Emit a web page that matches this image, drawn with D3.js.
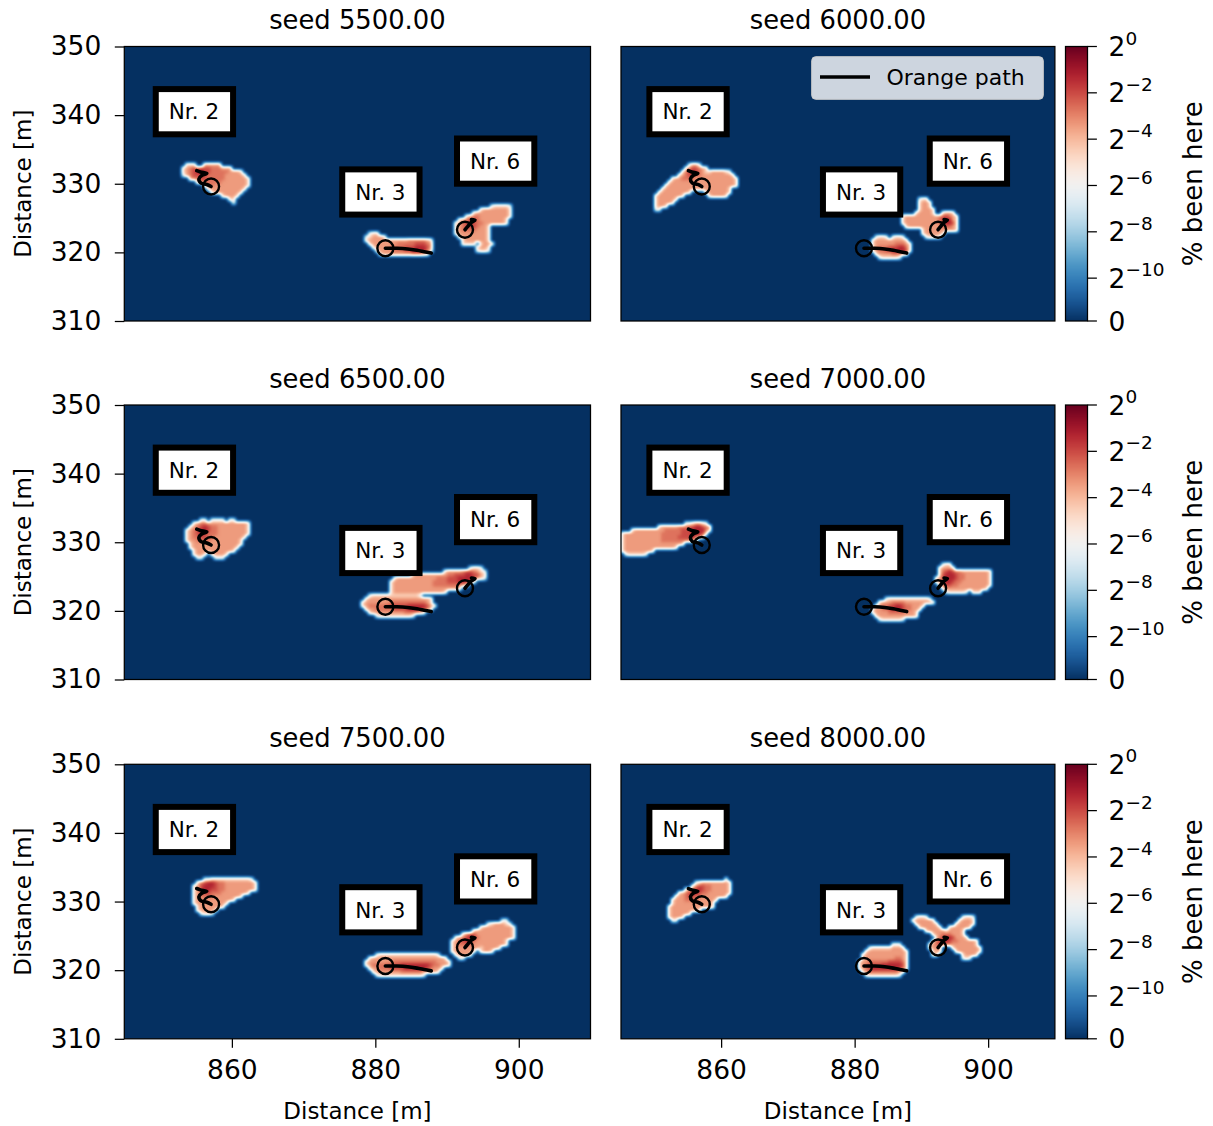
<!DOCTYPE html>
<html>
<head>
<meta charset="utf-8">
<script src="https://cdn.jsdelivr.net/npm/d3@7"></script>
<style>
  body { margin: 0; background: #ffffff; }
  svg text { font-family: "DejaVu Sans", "Liberation Sans", sans-serif; fill: #000; }
</style>
</head>
<body>
<svg id="fig" width="1213" height="1126"></svg>
<script>
// ---------------- data ----------------
const seeds = [5500, 6000, 6500, 7000, 7500, 8000];
const xTicks = [860, 880, 900];
const yTicks = [310, 320, 330, 340, 350];
const cbarTickExps = [null, -10, -8, -6, -4, -2, 0];   // null -> the 0 tick

const labelNames = ["Nr. 2", "Nr. 3", "Nr. 6"];
const labelAnchors = [[851.2, 340.5], [877.2, 328.8], [893.2, 333.3]];
const startPoints = [[857.1, 329.6], [881.4, 320.6], [892.5, 323.3]];

const pathNr2 = [[857.1, 329.6], [856.5, 329.9], [855.7, 330.1], [855.4, 330.7], [855.8, 331.2], [856.5, 331.5], [855.6, 331.7], [855.1, 331.9]];
const pathNr3 = [[881.4, 320.6], [883.0, 320.6], [884.5, 320.5], [885.8, 320.3], [886.8, 320.1], [887.8, 319.9]];
const pathNr6 = [[892.5, 323.3], [892.9, 323.8], [893.3, 324.3], [893.9, 324.7], [893.4, 324.8]];

// density levels per grid cell (0.5 m cells); digit -> log2 of the share of time spent there
const levelExp = [null, -10, -8, -6, -4.6, -3.4, -2.7, -2.0, -1.3, -0.5];

const blobs5500 = [
  { x0: 853, y0: 333, rows: [
    ".444..55555........",
    "45677877666555.....",
    "45678877666665554..",
    "356777766666555554.",
    "..56677666665555554",
    "....566666655555554",
    "......5665555555554",
    ".......45555555554.",
    "........455555554..",
    "...........45554...",
    ".............44....",
    "..............3...."] },
  { x0: 878.5, y0: 323, rows: [
    ".344...............",
    "345554.............",
    "4555555555556666654",
    ".455555556666677765",
    "..45555666677788875",
    "...4555566677888864",
    "....45555555566654."] },
  { x0: 890.5, y0: 327, rows: [
    "...........344443",
    "........455555554",
    "......45555555554",
    "....4566555555554",
    "..45677655555554.",
    ".456777665555554.",
    ".4567776554......",
    ".4566665554......",
    ".4555555554......",
    "..455555554......",
    "...45555554......",
    "...4444.4554.....",
    ".......4554......",
    ".......3443......"] }
];

const blobs6000 = [
  { x0: 849.5, y0: 333, rows: [
    "...........3553..........",
    "..........4677654.........",
    ".........467876544555543..",
    "........45677665555555554.",
    "......45566665555555555554",
    ".....455555555555555555554",
    "....4555555555555555555554",
    "...455555555555555555554..",
    "..4555555554....45555554..",
    ".455555554.......455554...",
    ".4555554..................",
    ".455554...................",
    ".4554.....................",
    ".33......................."] },
  { x0: 882.5, y0: 322.5, rows: [
    ".3443.3443..",
    "45555555554.",
    "455555566654",
    "456667778864",
    "456677888874",
    ".4555566654.",
    "..3444443..."] },
  { x0: 887, y0: 328, rows: [
    ".....344.........",
    ".....4554........",
    ".....4554........",
    ".....45554.......",
    "....455554..4554.",
    "45555555555677654",
    "45555555555678854",
    "45555555555678874",
    ".4555555555566654",
    "......45555555554",
    "......4555554....",
    ".......34443....."] }
];

const blobs6500 = [
  { x0: 853.5, y0: 333.5, rows: [
    "....33.3333.33....",
    "..4566555555555554",
    ".45678766555555554",
    "456788766555555554",
    "456787666555555554",
    "45667766555555554.",
    "4556666555555554..",
    ".455555555555554..",
    ".45555555555554...",
    "..455555555554....",
    "..4554.45554......",
    "...33...333......."] },
  { x0: 878, y0: 322.5, rows: [
    "..344444444444443....",
    ".4555555555555555554.",
    "45555555666666666654.",
    "456666677777788888754",
    ".4556666677778888764.",
    "..4555555555666654...",
    "....34444444443......"] },
  { x0: 882, y0: 326.5, rows: [
    "......................3443.",
    "...............455556776543",
    "......455555555566777887754",
    ".45555555555566677788887543",
    "455555555555666677788874...",
    "4555555555556666666654.....",
    "45555555555555555554.......",
    "4555555555555554...........",
    ".34444443.................."] }
];

const blobs7000 = [
  { x0: 845, y0: 333, rows: [
    "...................3345543",
    "...........4555556667788765",
    "...455555555566666777888864",
    "45555555555566666677788874.",
    "4555555555556666677778654..",
    "45555555555566666666654....",
    "4555555555555555554........",
    "45555555555555554..........",
    "4555555554.................",
    ".3444443..................."] },
  { x0: 882.5, y0: 322, rows: [
    "....34444444444443.",
    "..45556666555555554",
    ".456677887665554...",
    "455667888766554....",
    "45555666665554.....",
    ".4555555555554.....",
    "..34444443........."] },
  { x0: 892, y0: 327, rows: [
    "..344............",
    ".45554...........",
    ".4678766555555554",
    ".4788876655555554",
    "45788876655555554",
    "45788766555555554",
    ".4677665555555554",
    "..45555555555554.",
    "...3444443.444..."] }
];

const blobs7500 = [
  { x0: 854.5, y0: 333.5, rows: [
    "...33444444444443.",
    ".46788766555555554",
    "457888766555555554",
    "457887766555555554",
    "4567766655555554..",
    "45666655555554....",
    "455555555554......",
    "4555555554........",
    ".45555554.........",
    ".455554...........",
    "..3443............"] },
  { x0: 878.5, y0: 322.5, rows: [
    "...344444444444444443...",
    ".4555555555555555555554.",
    "455555556666666666665554",
    "456666777788888888766554",
    ".455666777788888876554..",
    "..4555555566666655554...",
    "...34444444444443......."] },
  { x0: 890.5, y0: 327.5, rows: [
    "..............33..",
    "..........3455543.",
    "........4555555554",
    "......455555555554",
    "...467755555555554",
    ".45678765555555554",
    "4567876555555554..",
    "4566665555555554..",
    "45555555455554....",
    "4555554.4554......",
    ".45554............",
    "..33.............."] }
];

const blobs8000 = [
  { x0: 852, y0: 333.5, rows: [
    ".................3.",
    "........34555555554",
    ".......467766555554",
    ".....45678766555554",
    "...4567887665555554",
    "..4556776655555554.",
    ".45556666555554....",
    ".4555555555554.....",
    "45555555555554.....",
    "4555555554.........",
    "4555554............",
    "45554..............",
    ".33................"] },
  { x0: 880.5, y0: 324, rows: [
    "..........333..",
    "...34444445554.",
    "..4555555555554",
    ".45555555555554",
    ".45555555556654",
    "455666666777764",
    "456777788888874",
    "456788888888764",
    ".4566666666654.",
    "..34444444443.."] },
  { x0: 888.5, y0: 328, rows: [
    ".3443..........3443..",
    "4555554.......45554..",
    ".4555554.....455554..",
    "..4555554..4555554...",
    "....455555455554.....",
    "......4556665554.....",
    ".......4678875554....",
    "......46788766555554.",
    ".....456776655555554.",
    ".....4555...455555554",
    "......455....45555554",
    "......44.......45554.",
    "...............343..."] }
];

const seedBlobs = [blobs5500, blobs6000, blobs6500, blobs7000, blobs7500, blobs8000];

// ---------------- layout ----------------
const svg = d3.select("#fig");
const defs = svg.append("defs");
const colX = [[124.3, 590.5], [621.0, 1054.9]];
const rowTop = [46.5, 405, 764.3];
const rowH = 274.5;
const cbarX = [1065.5, 1087.5];

const CELL = 0.5, GX0 = 845, GY1 = 350, NCOL = 130, NROW = 80;

// colour normalisation: linear below 2^-10, log2 above (as on the colour bar)
const LT = Math.pow(2, -10), LIN_UNITS = 1.85, TOTAL = LIN_UNITS + 10;
function norm(v) {
  if (v <= 0) return 0;
  if (v <= LT) return LIN_UNITS * (v / LT) / TOTAL;
  return Math.min(1, (LIN_UNITS + Math.log2(v / LT)) / TOTAL);
}
const cmap = t => d3.interpolateRdBu(1 - t);
const LUTN = 512;
const LUT = d3.range(LUTN).map(k => d3.rgb(cmap(k / (LUTN - 1))));
const lut = t => LUT[Math.round(Math.max(0, Math.min(1, t)) * (LUTN - 1))];

function buildGrid(blobs) {
  const g = new Float32Array(NCOL * NROW);
  blobs.forEach(b => {
    const c0 = Math.round((b.x0 - GX0) / CELL), r0 = Math.round((GY1 - b.y0) / CELL);
    b.rows.forEach((row, r) => {
      for (let c = 0; c < row.length; c++) {
        const ch = row[c];
        if (ch === ".") continue;
        const cc = c0 + c, rr = r0 + r;
        if (cc < 0 || cc >= NCOL || rr < 0 || rr >= NROW) continue;
        const t = norm(Math.pow(2, levelExp[+ch]));
        const gi = rr * NCOL + cc;
        if (t > g[gi]) g[gi] = t;
      }
    });
  });
  return g;
}

function cellT(g, r, c) {
  if (r < 0 || r >= NROW || c < 0 || c >= NCOL) return 0;
  return g[r * NCOL + c];
}

// small separable box blur on the normalised field (smooth resampling)
function boxBlur(f, W, H, rad) {
  const tmp = new Float32Array(W * H), n = 2 * rad + 1;
  for (let j = 0; j < H; j++) for (let i = 0; i < W; i++) {
    let s = 0;
    for (let k = -rad; k <= rad; k++) { const ii = Math.min(W - 1, Math.max(0, i + k)); s += f[j * W + ii]; }
    tmp[j * W + i] = s / n;
  }
  for (let j = 0; j < H; j++) for (let i = 0; i < W; i++) {
    let s = 0;
    for (let k = -rad; k <= rad; k++) { const jj = Math.min(H - 1, Math.max(0, j + k)); s += tmp[jj * W + i]; }
    f[j * W + i] = s / n;
  }
}

function toDataURL(field, W, H) {
  const cv = document.createElement("canvas");
  cv.width = W; cv.height = H;
  const ctx = cv.getContext("2d");
  const img = ctx.createImageData(W, H);
  for (let p = 0; p < W * H; p++) {
    const col = lut(field[p]);
    img.data[p * 4] = col.r; img.data[p * 4 + 1] = col.g; img.data[p * 4 + 2] = col.b; img.data[p * 4 + 3] = 255;
  }
  ctx.putImageData(img, 0, 0);
  return cv.toDataURL();
}

function rasterize(g, xs, ys) {
  const [px0, px1] = xs.range();
  const [py1, py0] = ys.range();
  const W = Math.round(px1 - px0), H = Math.round(py1 - py0);
  const field = new Float32Array(W * H);
  for (let j = 0; j < H; j++) {
    const dy = ys.invert(py0 + (j + 0.5) * (py1 - py0) / H);
    const gy = (GY1 - dy) / CELL - 0.5;
    const r0 = Math.floor(gy), fy = gy - r0;
    for (let i = 0; i < W; i++) {
      const dx = xs.invert(px0 + (i + 0.5) * (px1 - px0) / W);
      const gx = (dx - GX0) / CELL - 0.5;
      const c0 = Math.floor(gx), fx = gx - c0;
      field[j * W + i] = (cellT(g, r0, c0) * (1 - fx) + cellT(g, r0, c0 + 1) * fx) * (1 - fy) +
                         (cellT(g, r0 + 1, c0) * (1 - fx) + cellT(g, r0 + 1, c0 + 1) * fx) * fy;
    }
  }
  boxBlur(field, W, H, 1);
  boxBlur(field, W, H, 1);
  return toDataURL(field, W, H);
}

// colour bars, one per row: one crisp 1 px band per pixel row, coloured through the bar's scale
rowTop.forEach(top => {
  const bottom = top + rowH;
  const cy = d3.scaleLinear().domain([0, 1]).range([bottom, top]);
  const cb = svg.append("g");
  const y0 = Math.round(top), y1 = Math.round(bottom);
  cb.append("g").attr("shape-rendering", "crispEdges")
    .selectAll("rect").data(d3.range(y0, y1)).join("rect")
    .attr("x", Math.round(cbarX[0])).attr("width", Math.round(cbarX[1] - cbarX[0]))
    .attr("y", d => d).attr("height", 1)
    .attr("fill", d => { const c = lut(cy.invert(d + 0.5)); return `rgb(${c.r},${c.g},${c.b})`; });
  cb.append("rect").attr("x", cbarX[0]).attr("y", top)
    .attr("width", cbarX[1] - cbarX[0]).attr("height", rowH)
    .attr("fill", "none").attr("stroke", "#000").attr("stroke-width", 1.25);

  const tickVals = cbarTickExps.map(e => e === null ? 0 : Math.pow(2, e));
  tickVals.forEach((v, k) => {
    const ty = cy(norm(v));
    cb.append("line").attr("x1", cbarX[1]).attr("x2", cbarX[1] + 9.4)
      .attr("y1", ty).attr("y2", ty).attr("stroke", "#000").attr("stroke-width", 1.25);
    const t = cb.append("text").attr("x", cbarX[1] + 21).attr("y", ty + 9.6)
      .style("font-size", "26.5px");
    const e = cbarTickExps[k];
    if (e === null) { t.text("0"); return; }
    t.append("tspan").text("2");
    t.append("tspan").attr("dy", -11.5).style("font-size", "18.5px")
      .text(e === 0 ? "0" : "\u2212" + Math.abs(e));
  });

  svg.append("text")
    .attr("transform", `translate(1193,${(top + bottom) / 2}) rotate(-90)`)
    .attr("text-anchor", "middle").attr("dominant-baseline", "central")
    .style("font-size", "26px").text("% been here");
});

const paths = [pathNr2, pathNr3, pathNr6];

seeds.forEach((seed, idx) => {
  const row = Math.floor(idx / 2), col = idx % 2;
  const top = rowTop[row], bottom = top + rowH;
  const x = d3.scaleLinear().domain([845, 910]).range(colX[col]);
  const y = d3.scaleLinear().domain([310, 350]).range([bottom, top]);
  const g = svg.append("g");

  // heat map
  const grid = buildGrid(seedBlobs[idx]);
  g.append("image")
    .attr("x", colX[col][0]).attr("y", top)
    .attr("width", colX[col][1] - colX[col][0]).attr("height", rowH)
    .attr("preserveAspectRatio", "none")
    .attr("href", rasterize(grid, x, y));

  const clipId = "clip" + idx;
  defs.append("clipPath").attr("id", clipId).append("rect")
    .attr("x", colX[col][0]).attr("y", top)
    .attr("width", colX[col][1] - colX[col][0]).attr("height", rowH);
  const inner = g.append("g").attr("clip-path", `url(#${clipId})`);

  // paths and start markers
  const line = d3.line().x(d => x(d[0])).y(d => y(d[1])).curve(d3.curveCatmullRom);
  paths.forEach(p => {
    inner.append("path").attr("d", line(p))
      .attr("fill", "none").attr("stroke", "#000").attr("stroke-width", 3.6)
      .attr("stroke-linecap", "round").attr("stroke-linejoin", "round");
  });
  startPoints.forEach(p => {
    inner.append("circle").attr("cx", x(p[0])).attr("cy", y(p[1])).attr("r", 8)
      .attr("fill", "none").attr("stroke", "#000").attr("stroke-width", 2.4);
  });

  // labels in boxes
  labelNames.forEach((name, k) => {
    const lg = inner.append("g");
    const tx = x(labelAnchors[k][0]), ty = y(labelAnchors[k][1]);
    const rect = lg.append("rect");
    const txt = lg.append("text").attr("x", tx).attr("y", ty).attr("dy", "0.36em")
      .style("font-size", "21.5px").text(name);
    const w = txt.node().getComputedTextLength();
    rect.attr("x", tx - 13).attr("y", ty - 22.6).attr("width", w + 27).attr("height", 45.2)
      .attr("fill", "#fff").attr("stroke", "#000").attr("stroke-width", 6);
  });

  // frame
  g.append("rect").attr("x", colX[col][0]).attr("y", top)
    .attr("width", colX[col][1] - colX[col][0]).attr("height", rowH)
    .attr("fill", "none").attr("stroke", "#000").attr("stroke-width", 1.25);

  // title
  svg.append("text").attr("x", (colX[col][0] + colX[col][1]) / 2).attr("y", top - 17.2)
    .attr("text-anchor", "middle").style("font-size", "25.8px")
    .text(`seed ${seed.toFixed(2)}`);

  // axes
  if (col === 0) {
    const ay = svg.append("g").attr("transform", `translate(${colX[0][0]},0)`)
      .call(d3.axisLeft(y).tickValues(yTicks).tickSize(9.5).tickPadding(13.5));
    ay.select(".domain").remove();
    ay.selectAll("line").attr("stroke", "#000").attr("stroke-width", 1.25);
    ay.selectAll("text").style("font-size", "26.5px").attr("font-family", null);
    svg.append("text")
      .attr("transform", `translate(23,${(top + bottom) / 2}) rotate(-90)`)
      .attr("text-anchor", "middle").attr("dominant-baseline", "central")
      .style("font-size", "23px").text("Distance [m]");
  }
  if (row === 2) {
    const ax = svg.append("g").attr("transform", `translate(0,${bottom})`)
      .call(d3.axisBottom(x).tickValues(xTicks).tickSize(9).tickPadding(12.5));
    ax.select(".domain").remove();
    ax.selectAll("line").attr("stroke", "#000").attr("stroke-width", 1.25);
    ax.selectAll("text").style("font-size", "26.5px").attr("font-family", null);
    svg.append("text").attr("x", (colX[col][0] + colX[col][1]) / 2).attr("y", 1118.5)
      .attr("text-anchor", "middle").style("font-size", "23px").text("Distance [m]");
  }

  // legend
  if (idx === 1) {
    const lg = svg.append("g");
    lg.append("rect").attr("x", 811.7).attr("y", 56.7).attr("width", 231.6).attr("height", 42.6)
      .attr("rx", 4).attr("fill", "#fff").attr("fill-opacity", 0.8)
      .attr("stroke", "#cccccc").attr("stroke-width", 1);
    lg.append("line").attr("x1", 820).attr("x2", 870).attr("y1", 77).attr("y2", 77)
      .attr("stroke", "#000").attr("stroke-width", 3.6);
    lg.append("text").attr("x", 886.5).attr("y", 77).attr("dy", "0.36em")
      .style("font-size", "22px").text("Orange path");
  }
});
</script>
</body>
</html>
